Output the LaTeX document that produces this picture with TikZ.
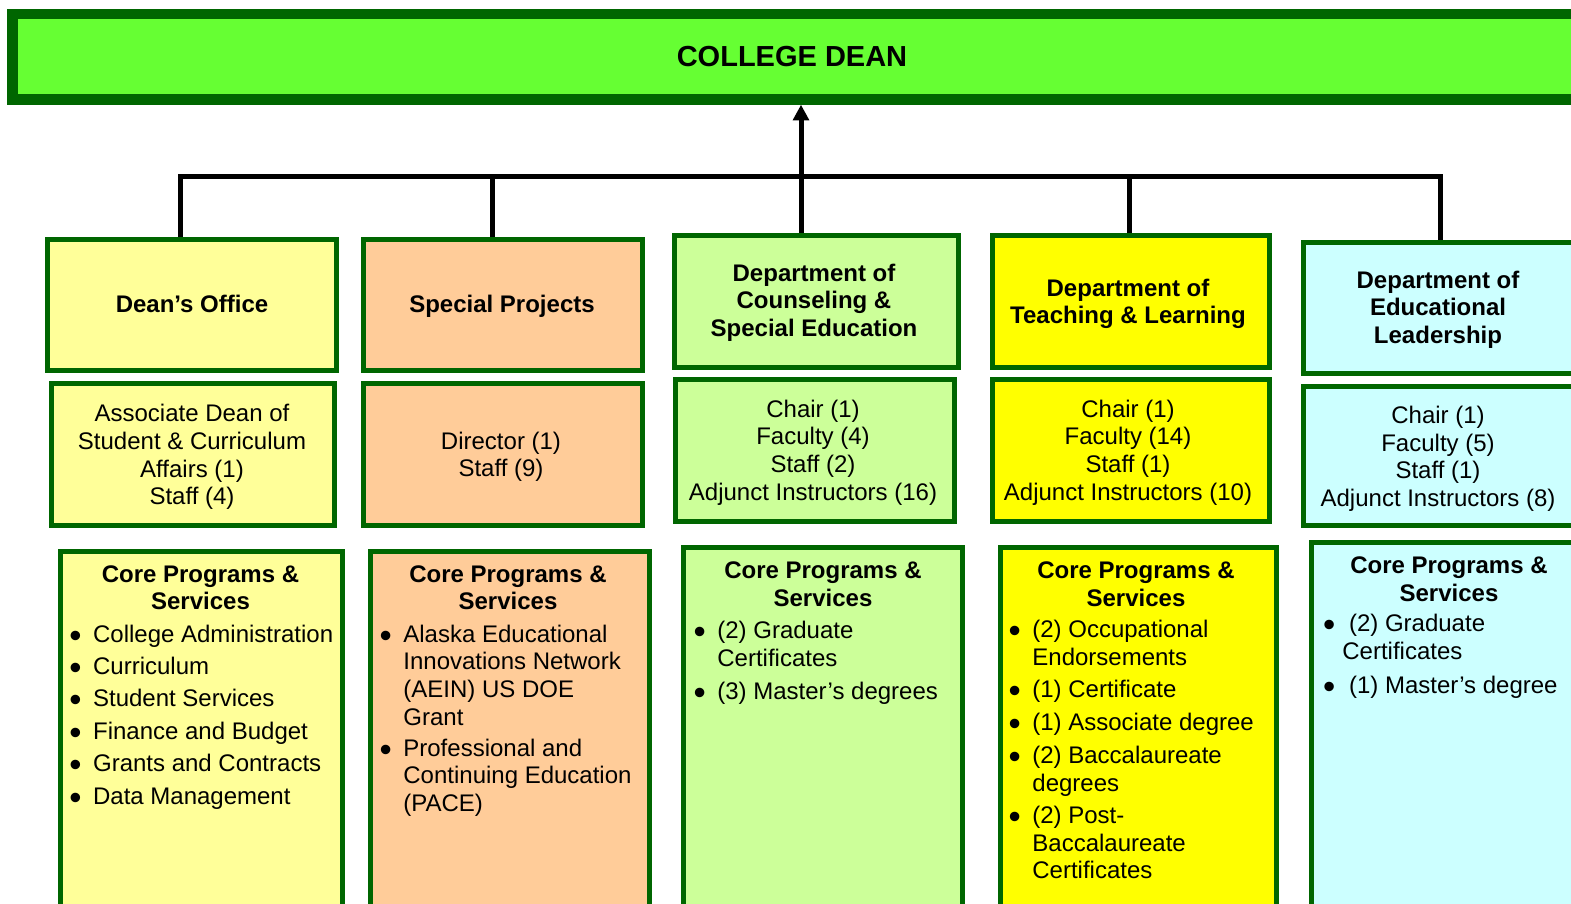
\documentclass[tikz,border=0pt]{standalone}
\usepackage{fontspec}
\setmainfont{Liberation Sans}
\usetikzlibrary{arrows.meta}
\definecolor{dkgreen}{HTML}{006600}
\definecolor{bannergreen}{HTML}{66FF33}
\definecolor{cAfill}{HTML}{FFFF99}
\definecolor{cBfill}{HTML}{FFCC99}
\definecolor{cCfill}{HTML}{CCFF99}
\definecolor{cDfill}{HTML}{FFFF00}
\definecolor{cEfill}{HTML}{CCFFFF}
\newcommand{\bodyfont}{\fontsize{12}{13.85}\selectfont}
\newcommand{\hdrfont}{\fontsize{12}{13.9}\selectfont\bfseries}
\newcommand{\mybox}[6]{\node[orgbox, fill=#6, minimum width={(#4-#2-5)*0.5pt}, minimum height={(#5-#3-5)*0.5pt}] (#1) at ({(#2+#4)/2},{(#3+#5)/2}) {};}
\newcommand{\bl}[1][5.8pt]{\llap{\raisebox{-2.5pt}{\scalebox{1.45}{\textbullet}}\hspace{#1}}}
\begin{document}
\begin{tikzpicture}[x=0.5pt,y=-0.5pt,
  orgbox/.style={draw=dkgreen, line width=2.5pt, rectangle, inner sep=0pt},
  hdr/.style={font=\hdrfont, align=center, anchor=base, inner sep=0pt},
  body/.style={font=\bodyfont, align=center, anchor=base, inner sep=0pt},
  item/.style={font=\bodyfont, align=left, anchor=base west, inner sep=0pt},
  conn/.style={draw=black, line width=2.5pt, line join=miter}]
\useasboundingbox (0,0) rectangle (1571,904);
\clip (0,0) rectangle (1571,904);

% banner
\node[draw=dkgreen, fill=bannergreen, line width=5.25pt, rectangle, inner sep=0pt,
  minimum width={(1581-7-10.5)*0.5pt}, minimum height={(104.7-9-10.5)*0.5pt}]
  (dean) at (794,56.85) {};
\node[font=\fontsize{14.5}{16}\selectfont\bfseries, inner sep=0pt] (deantext) at (792,57) {COLLEGE DEAN};

% boxes
\mybox{bAt}{45}{237}{339}{372.5}{cAfill}
\mybox{bAm}{49}{381}{337}{528}{cAfill}
\mybox{bAb}{57.5}{549}{345}{950}{cAfill}
\mybox{bBt}{361}{237}{645}{373}{cBfill}
\mybox{bBm}{361}{381}{645}{528}{cBfill}
\mybox{bBb}{368}{549}{652}{950}{cBfill}
\mybox{bCt}{672}{233}{961}{370}{cCfill}
\mybox{bCm}{673}{377}{957}{524}{cCfill}
\mybox{bCb}{681}{545}{965}{950}{cCfill}
\mybox{bDt}{990}{233}{1272}{370}{cDfill}
\mybox{bDm}{990}{377}{1272}{524}{cDfill}
\mybox{bDb}{998}{545}{1279}{950}{cDfill}
\mybox{bEt}{1301}{240}{1580}{376}{cEfill}
\mybox{bEm}{1301}{384}{1578}{528}{cEfill}
\mybox{bEb}{1309}{540}{1590}{950}{cEfill}

% connectors
\coordinate (j1) at (180.8,176.7);
\coordinate (j2) at (492.7,176.7);
\coordinate (j3) at (801,176.7);
\coordinate (j4) at (1129,176.7);
\coordinate (j5) at (1440.7,176.7);
\draw[conn] (j1 |- bAt.north) -- (j1) -- (j5) -- (j5 |- bEt.north);
\draw[conn] (j2) -- (j2 |- bBt.north);
\draw[conn] (j4) -- (j4 |- bDt.north);
\draw[conn,-{Triangle[length=7.85pt,width=7.85pt]}] (j3 |- bCt.north) -- (j3 |- dean.south);

% top texts (anchor = baseline of last line)
\node[hdr] (tA) at (192,312.5) {Dean’s Office};
\node[hdr] (tB) at (502,312.5) {Special Projects};
\node[hdr] (tC) at (814,{281+2*27.8}) {Department of\\Counseling \&\\Special Education};
\node[hdr] (tD) at (1128,{296+27.8}) {Department of\\Teaching \& Learning};
\node[hdr] (tE) at (1438,{288+2*27.8}) {Department of\\Educational\\Leadership};

% middle texts
\node[body] (mA) at (192,{421.7+3*27.7}) {Associate Dean of\\Student \& Curriculum\\Affairs (1)\\Staff (4)};
\node[body] (mB) at (501,{449+27.7}) {Director (1)\\Staff (9)};
\node[body] (mC) at (813,{417.3+3*27.7}) {Chair (1)\\Faculty (4)\\Staff (2)\\Adjunct Instructors (16)};
\node[body] (mD) at (1128,{417.3+3*27.7}) {Chair (1)\\Faculty (14)\\Staff (1)\\Adjunct Instructors (10)};
\node[body] (mE) at (1438,{423.3+3*27.7}) {Chair (1)\\Faculty (5)\\Staff (1)\\Adjunct Instructors (8)};

% bottom headers
\node[hdr] (hA) at (200.5,{582+27.8}) {Core Programs \&\\Services};
\node[hdr] (hB) at (508,{582+27.8}) {Core Programs \&\\Services};
\node[hdr] (hC) at (823,{578.3+27.8}) {Core Programs \&\\Services};
\node[hdr] (hD) at (1136,{578.3+27.8}) {Core Programs \&\\Services};
\node[hdr] (hE) at (1449,{573.3+27.8}) {Core Programs \&\\Services};

% bullet items column A
\node[item] (iA1) at (92.7,642) {\bl College Administration};
\node[item] (iA2) at (92.7,674.4) {\bl Curriculum};
\node[item] (iA3) at (92.7,706.8) {\bl Student Services};
\node[item] (iA4) at (92.7,739.2) {\bl Finance and Budget};
\node[item] (iA5) at (92.7,771.6) {\bl Grants and Contracts};
\node[item] (iA6) at (92.7,804) {\bl Data Management};
% column B
\node[item] (iB1) at (403,{642+3*27.7}) {\bl Alaska Educational\\Innovations Network\\(AEIN) US DOE\\Grant};
\node[item] (iB2) at (403,{756+2*27.7}) {\bl Professional and\\Continuing Education\\(PACE)};
% column C
\node[item] (iC1) at (717,{638.3+27.7}) {\bl (2) Graduate\\Certificates};
\node[item] (iC2) at (717,699) {\bl (3) Master’s degrees};
% column D
\node[item] (iD1) at (1032,{637.5+27.7}) {\bl (2) Occupational\\Endorsements};
\node[item] (iD2) at (1032,697.5) {\bl (1) Certificate};
\node[item] (iD3) at (1032,730.5) {\bl (1) Associate degree};
\node[item] (iD4) at (1032,{763.5+27.7}) {\bl (2) Baccalaureate\\degrees};
\node[item] (iD5) at (1032,{823.5+2*27.7}) {\bl (2) Post-\\Baccalaureate\\Certificates};
% column E
\node[item] (iE1) at (1342,{631.7+27.7}) {\bl[3.6pt] (2) Graduate\\Certificates};
\node[item] (iE2) at (1342,693.3) {\bl[3.6pt] (1) Master’s degree};
\end{tikzpicture}
\end{document}
